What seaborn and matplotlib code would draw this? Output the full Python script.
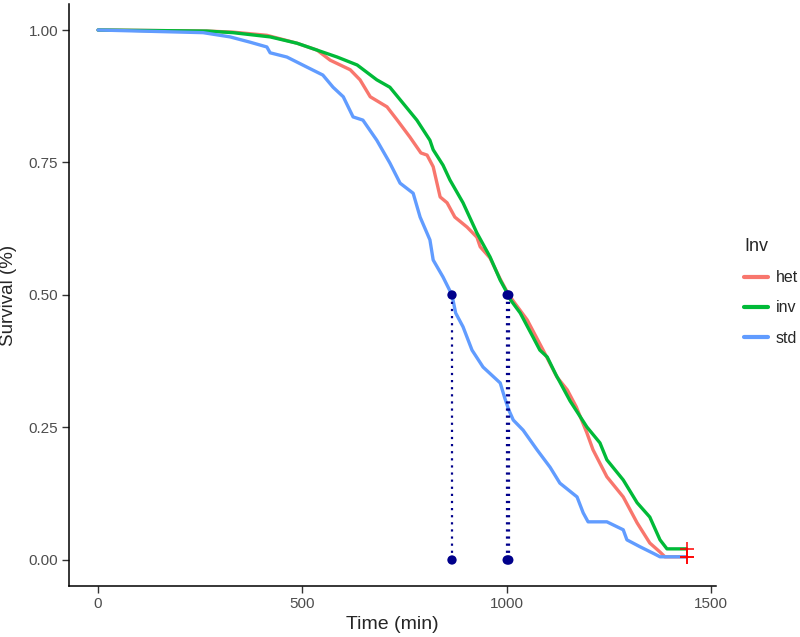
"""Kaplan-Meier style survival curves by inversion karyotype."""

import matplotlib
import matplotlib.pyplot as plt
import numpy as np
import pandas as pd
import seaborn as sns

matplotlib.use("Agg")

# ---------------------------------------------------------------------------
# Data
# ---------------------------------------------------------------------------

het_time = [0, 266, 330, 413, 487, 536, 568, 617, 641, 666, 707, 732, 763,
            790, 805, 820, 837, 854, 873, 903, 927, 935, 959, 984, 1005, 1050,
            1089, 1123, 1148, 1170, 1196, 1211, 1245, 1285, 1319, 1350, 1375,
            1387, 1440]
het_surv = [1.0, 0.998, 0.996, 0.990, 0.975, 0.962, 0.943, 0.925, 0.906,
            0.874, 0.855, 0.830, 0.798, 0.768, 0.764, 0.742, 0.685, 0.674,
            0.647, 0.628, 0.609, 0.591, 0.570, 0.530, 0.500, 0.453, 0.396,
            0.345, 0.321, 0.289, 0.240, 0.208, 0.157, 0.119, 0.070, 0.032,
            0.015, 0.006, 0.006]

inv_time = [0, 266, 330, 421, 487, 536, 585, 634, 682, 714, 746, 780, 812,
            820, 844, 861, 893, 927, 959, 984, 1001, 1010, 1033, 1064, 1081,
            1099, 1120, 1155, 1196, 1228, 1245, 1285, 1319, 1350, 1375, 1392,
            1440]
inv_surv = [1.0, 0.998, 0.995, 0.987, 0.975, 0.962, 0.949, 0.934, 0.906,
            0.892, 0.862, 0.830, 0.792, 0.774, 0.745, 0.717, 0.674, 0.617,
            0.572, 0.528, 0.504, 0.490, 0.466, 0.421, 0.396, 0.383, 0.350,
            0.300, 0.251, 0.221, 0.189, 0.151, 0.108, 0.081, 0.038, 0.021,
            0.021]

std_time = [0, 257, 323, 372, 413, 421, 462, 511, 550, 575, 600, 624, 648,
            682, 714, 739, 771, 788, 812, 820, 844, 866, 875, 893, 915, 942,
            984, 995, 1005, 1016, 1040, 1074, 1106, 1130, 1172, 1187, 1199,
            1245, 1285, 1294, 1326, 1360, 1375, 1440]
std_surv = [1.0, 0.995, 0.987, 0.977, 0.968, 0.957, 0.949, 0.930, 0.915,
            0.892, 0.874, 0.836, 0.830, 0.792, 0.749, 0.711, 0.692, 0.647,
            0.604, 0.566, 0.534, 0.500, 0.466, 0.440, 0.396, 0.364, 0.334,
            0.306, 0.283, 0.264, 0.245, 0.208, 0.175, 0.145, 0.119, 0.089,
            0.072, 0.072, 0.057, 0.038, 0.025, 0.012, 0.006, 0.006]

groups = ["het", "inv", "std"]
median_time = [1005, 1001, 866]
censor_time = [1440, 1440, 1440]
censor_surv = [0.006, 0.021, 0.006]

palette = {"het": "#F8766D", "inv": "#00BA38", "std": "#619CFF"}
MEDIAN_COLOR = "#00008B"

curves = pd.concat([
    pd.DataFrame({"time": het_time, "surv": het_surv, "Inv": "het"}),
    pd.DataFrame({"time": inv_time, "surv": inv_surv, "Inv": "inv"}),
    pd.DataFrame({"time": std_time, "surv": std_surv, "Inv": "std"}),
], ignore_index=True)

# ---------------------------------------------------------------------------
# Plot
# ---------------------------------------------------------------------------

sns.set_theme(style="white")
plt.rcParams["font.family"] = ["Liberation Sans", "DejaVu Sans"]

fig = plt.figure(figsize=(8.0, 6.37), dpi=100)
ax = fig.add_axes([0.0858, 0.0793, 0.895 - 0.0858, 0.9945 - 0.0793])

sns.lineplot(
    data=curves, x="time", y="surv", hue="Inv", hue_order=groups,
    palette=palette, estimator=None, sort=False,
    linewidth=2.4, ax=ax,
)

# median survival markers with dotted drop lines
ax.vlines(median_time, 0, 0.5, colors=MEDIAN_COLOR, linestyles=(0, (1, 2.2)),
          linewidth=1.6, zorder=4)
sns.scatterplot(x=median_time, y=[0.5] * len(median_time), color=MEDIAN_COLOR,
                s=45, edgecolor="none", zorder=5, ax=ax, legend=False)
sns.scatterplot(x=median_time, y=[0.0] * len(median_time), color=MEDIAN_COLOR,
                s=45, edgecolor="none", zorder=5, ax=ax, legend=False)

# censoring marks at the end of follow-up
sns.scatterplot(x=censor_time, y=censor_surv, marker="+", color="#FF0000",
                s=110, linewidth=1.1, zorder=6, ax=ax, legend=False)

ax.set_xlim(-72, 1512)
ax.set_ylim(-0.05, 1.05)
ax.set_xticks([0, 500, 1000, 1500])
ax.set_yticks([0.0, 0.25, 0.5, 0.75, 1.0])
ax.set_yticklabels([f"{v:.2f}" for v in [0.0, 0.25, 0.5, 0.75, 1.0]])
ax.set_xlabel("Time (min)", fontsize=14, labelpad=4)
ax.set_ylabel("Survival (%)", fontsize=13.5, labelpad=8)

for side in ["top", "right"]:
    ax.spines[side].set_visible(False)
for side in ["left", "bottom"]:
    ax.spines[side].set_color("black")
    ax.spines[side].set_linewidth(1.1)
ax.tick_params(axis="both", length=5, width=1.0, color="#333333",
               labelcolor="#4D4D4D", labelsize=11, pad=2.5,
               left=True, bottom=True)

handles, labels = ax.get_legend_handles_labels()
ax.get_legend().remove()
leg = fig.legend(
    handles, labels, title="Inv", loc="center left",
    bbox_to_anchor=(0.912, 0.542), frameon=False, fontsize=11.5,
    title_fontsize=13, handlelength=1.5, handletextpad=0.5,
    labelspacing=0.95, alignment="left",
)
for line in leg.get_lines():
    line.set_linewidth(3)

fig.savefig("out.png", dpi=100)
